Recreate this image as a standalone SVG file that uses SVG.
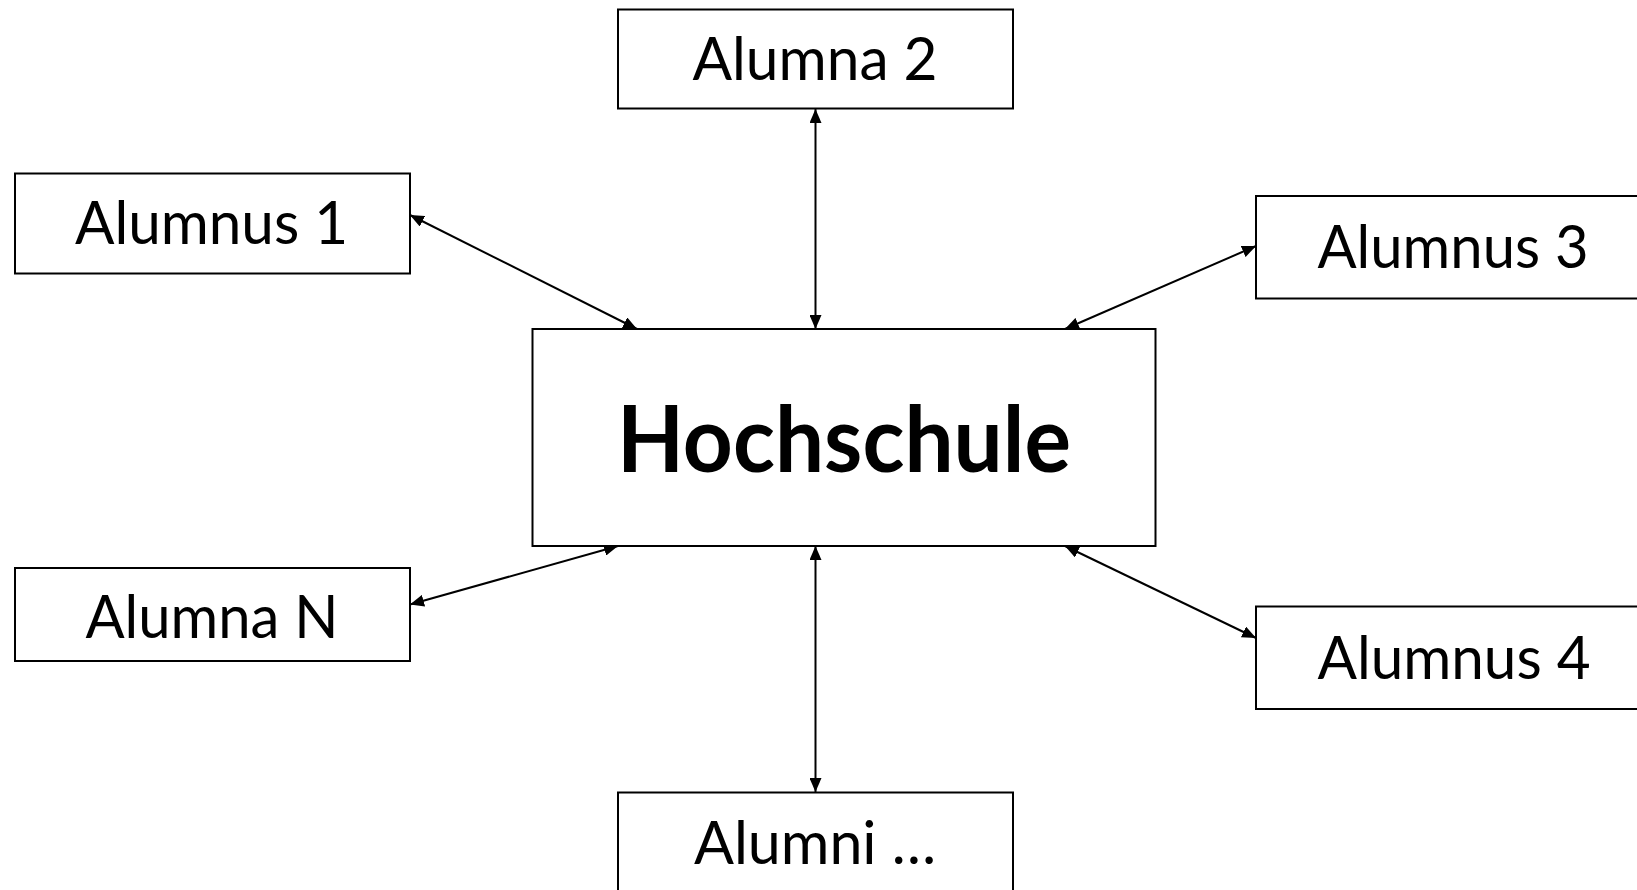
<svg xmlns="http://www.w3.org/2000/svg" width="1637" height="890" viewBox="0 0 1637 890">
<style>
.box{fill:#fff;stroke:#000;stroke-width:2}
.lbl{font-family:Lato,"Open Sans","Liberation Sans",sans-serif;font-size:60px;fill:#000;text-anchor:middle}
.main{font-family:Lato,"Open Sans","Liberation Sans",sans-serif;font-size:92px;font-weight:bold;fill:#000;text-anchor:middle}
.con{stroke:#000;stroke-width:2;fill:none;marker-start:url(#ah);marker-end:url(#ah)}
</style>
<defs>
<marker id="ah" viewBox="0 0 14 12" refX="14" refY="6" markerWidth="14" markerHeight="12" markerUnits="userSpaceOnUse" orient="auto-start-reverse">
<path d="M0,0 L14,6 L0,12 Z" fill="#000"/>
</marker>
</defs>
<rect width="1637" height="890" fill="#fff"/>
<g id="connectors">
<line class="con" x1="815.5" y1="109" x2="815.5" y2="329"/>
<line class="con" x1="410" y1="215" x2="637" y2="329"/>
<line class="con" x1="1256" y1="246" x2="1065" y2="329"/>
<line class="con" x1="410" y1="604.5" x2="618" y2="546"/>
<line class="con" x1="1256" y1="638" x2="1065" y2="546"/>
<line class="con" x1="815.5" y1="546" x2="815.5" y2="792"/>
</g>
<g id="hochschule">
<rect class="box" x="532.5" y="329" width="623" height="217"/>
<text class="main" x="844" y="472" textLength="454" lengthAdjust="spacingAndGlyphs">Hochschule</text>
</g>
<g id="alumna2">
<rect class="box" x="618" y="9.5" width="395" height="99"/>
<text class="lbl" x="815" y="80" textLength="245" lengthAdjust="spacingAndGlyphs">Alumna 2</text>
</g>
<g id="alumnus1">
<rect class="box" x="15" y="173.5" width="395" height="100"/>
<text class="lbl" x="211.5" y="244" textLength="273" lengthAdjust="spacingAndGlyphs">Alumnus 1</text>
</g>
<g id="alumnus3">
<rect class="box" x="1256" y="196" width="400" height="102.5"/>
<text class="lbl" x="1453" y="268" textLength="271" lengthAdjust="spacingAndGlyphs">Alumnus 3</text>
</g>
<g id="alumnaN">
<rect class="box" x="15" y="568" width="395" height="93"/>
<text class="lbl" x="212" y="638" textLength="253" lengthAdjust="spacingAndGlyphs">Alumna N</text>
</g>
<g id="alumnus4">
<rect class="box" x="1256" y="606.5" width="400" height="102.5"/>
<text class="lbl" x="1454" y="678.5" textLength="273" lengthAdjust="spacingAndGlyphs">Alumnus 4</text>
</g>
<g id="alumni">
<rect class="box" x="618" y="792.5" width="395" height="110"/>
<text class="lbl" x="815" y="864" textLength="242" lengthAdjust="spacingAndGlyphs">Alumni …</text>
</g>
</svg>
